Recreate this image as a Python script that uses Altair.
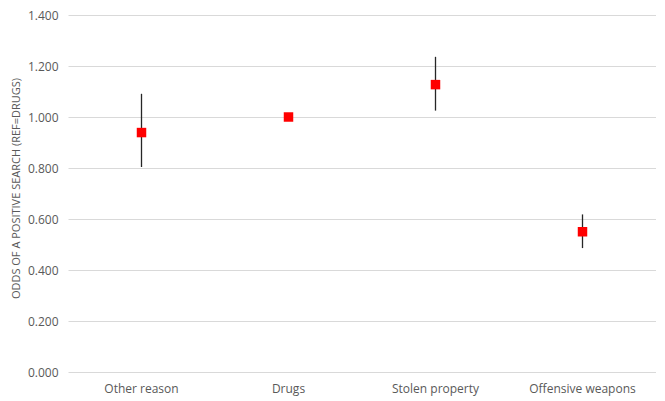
import altair as alt
import pandas as pd

categories = ["Other reason", "Drugs", "Stolen property", "Offensive weapons"]
odds = [0.939, 1.000, 1.127, 0.550]
lower = [0.804, 1.000, 1.025, 0.486]
upper = [1.091, 1.000, 1.236, 0.618]

data = pd.DataFrame(
    {"category": categories, "odds": odds, "lower": lower, "upper": upper}
)

font = "Open Sans"
x = alt.X(
    "category:N",
    sort=categories,
    title=None,
    scale=alt.Scale(paddingInner=0, paddingOuter=0),
    axis=alt.Axis(
        labelAngle=0,
        domain=False,
        ticks=False,
        labelPadding=11,
        labelFont=font,
        labelFontSize=12,
        labelColor="#595959",
    ),
)

bars = (
    alt.Chart(data)
    .mark_rule(color="#262626", strokeWidth=1.3)
    .encode(
        x=x,
        y=alt.Y("lower:Q"),
        y2="upper:Q",
    )
)

points = (
    alt.Chart(data)
    .mark_point(shape="square", filled=True, color="#ff0000", size=90, opacity=1)
    .encode(
        x=x,
        y=alt.Y(
            "odds:Q",
            title="ODDS OF A POSITIVE SEARCH (REF=DRUGS)",
            scale=alt.Scale(domain=[0, 1.4], nice=False),
            axis=alt.Axis(
                values=[0, 0.2, 0.4, 0.6, 0.8, 1.0, 1.2, 1.4],
                format=".3f",
                domain=False,
                ticks=False,
                gridColor="#d9d9d9",
                labelPadding=10,
                labelFont=font,
                labelFontSize=12,
                labelColor="#595959",
                titleFont=font,
                titleFontSize=11,
                titleFontWeight="normal",
                titleColor="#595959",
                titlePadding=6,
                titleY=173,
            ),
        ),
        tooltip=["category", "odds", "lower", "upper"],
    )
)

chart = (
    alt.layer(bars, points)
    .properties(
        width=588,
        height=357,
        autosize=alt.AutoSizeParams(type="none"),
        padding={"left": 60, "top": 7, "right": 0, "bottom": 26},
    )
    .configure_view(stroke=None)
)

chart.save("out.html", embed_options={"renderer": "svg", "actions": False})
